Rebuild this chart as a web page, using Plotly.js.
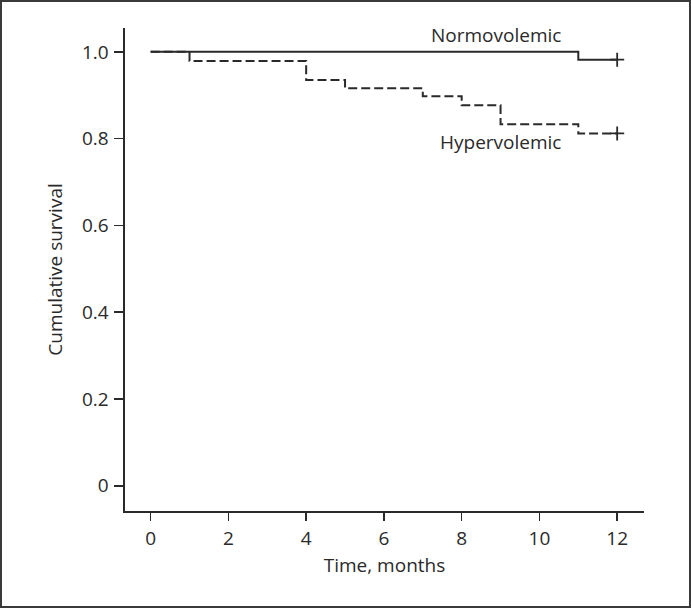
<!DOCTYPE html>
<html>
<head>
<meta charset="utf-8">
<script src="https://cdn.plot.ly/plotly-3.0.1.min.js"></script>
<style>
  html, body { margin: 0; padding: 0; background: #fff; }
  #wrap { position: relative; width: 691px; height: 608px; }
  #chart { width: 691px; height: 608px; }
  #frame { position: absolute; left: 0; top: 0; width: 691px; height: 608px; box-sizing: border-box; border: 2px solid #3a3a3a; pointer-events: none; }
</style>
</head>
<body>
<div id="wrap"><div id="chart"></div><div id="frame"></div></div>
<script>
// Kaplan-Meier data
const normoTime = [0, 11, 12];
const normoSurv = [1.0, 0.982, 0.982];
const hyperTime = [0, 1, 4, 5, 7, 8, 9, 11, 12];
const hyperSurv = [1.0, 0.979, 0.935, 0.916, 0.898, 0.877, 0.833, 0.812, 0.812];
const censorTime = [12, 12];
const censorSurv = [0.982, 0.812];
const xTicks = [0, 2, 4, 6, 8, 10, 12];
const yTicks = [0, 0.2, 0.4, 0.6, 0.8, 1.0];
const yTickText = ['0', '0.2', '0.4', '0.6', '0.8', '1.0'];
const groupLabels = ['Normovolemic', 'Hypervolemic'];

const ink = '#2a2a2a';
const font = { family: '"Open Sans", "Noto Sans", sans-serif', size: 19, color: ink };

const traces = [
  { x: hyperTime, y: hyperSurv, mode: 'lines', line: { shape: 'hv', color: ink, width: 2, dash: '9px,4px' }, hoverinfo: 'skip' },
  { x: normoTime, y: normoSurv, mode: 'lines', line: { shape: 'hv', color: ink, width: 2 }, hoverinfo: 'skip' },
  { x: censorTime, y: censorSurv, mode: 'markers', marker: { symbol: 'cross-thin', size: 10, line: { width: 1.8, color: ink }, color: ink }, hoverinfo: 'skip' }
];

const layout = {
  width: 691, height: 608,
  margin: { l: 125, r: 47, t: 28, b: 97 },
  paper_bgcolor: '#fff', plot_bgcolor: '#fff',
  showlegend: false,
  font: font,
  xaxis: {
    range: [-0.66, 12.69], tickvals: xTicks, ticktext: xTicks.map(String),
    showgrid: false, zeroline: false, showline: true, linecolor: ink, linewidth: 1.6,
    ticks: 'outside', ticklen: 8, tickwidth: 1.6, tickcolor: ink,
    ticklabelstandoff: 2,
    tickfont: font,
    title: { text: 'Time, months', font: font, standoff: 8 }
  },
  yaxis: {
    range: [-0.058, 1.055], tickvals: yTicks, ticktext: yTickText,
    showgrid: false, zeroline: false, showline: true, linecolor: ink, linewidth: 1.6,
    ticks: 'outside', ticklen: 9, tickwidth: 1.6, tickcolor: ink,
    ticklabelstandoff: 2,
    tickfont: font,
    title: { text: 'Cumulative survival', font: font, standoff: 14 }
  },
  annotations: [
    { x: 8.89, y: 1.038, xref: 'x', yref: 'y', text: groupLabels[0], showarrow: false, font: font, xanchor: 'center', yanchor: 'middle' },
    { x: 9.01, y: 0.792, xref: 'x', yref: 'y', text: groupLabels[1], showarrow: false, font: font, xanchor: 'center', yanchor: 'middle' }
  ]
};

Plotly.newPlot('chart', traces, layout, { staticPlot: true, displayModeBar: false });
</script>
</body>
</html>
